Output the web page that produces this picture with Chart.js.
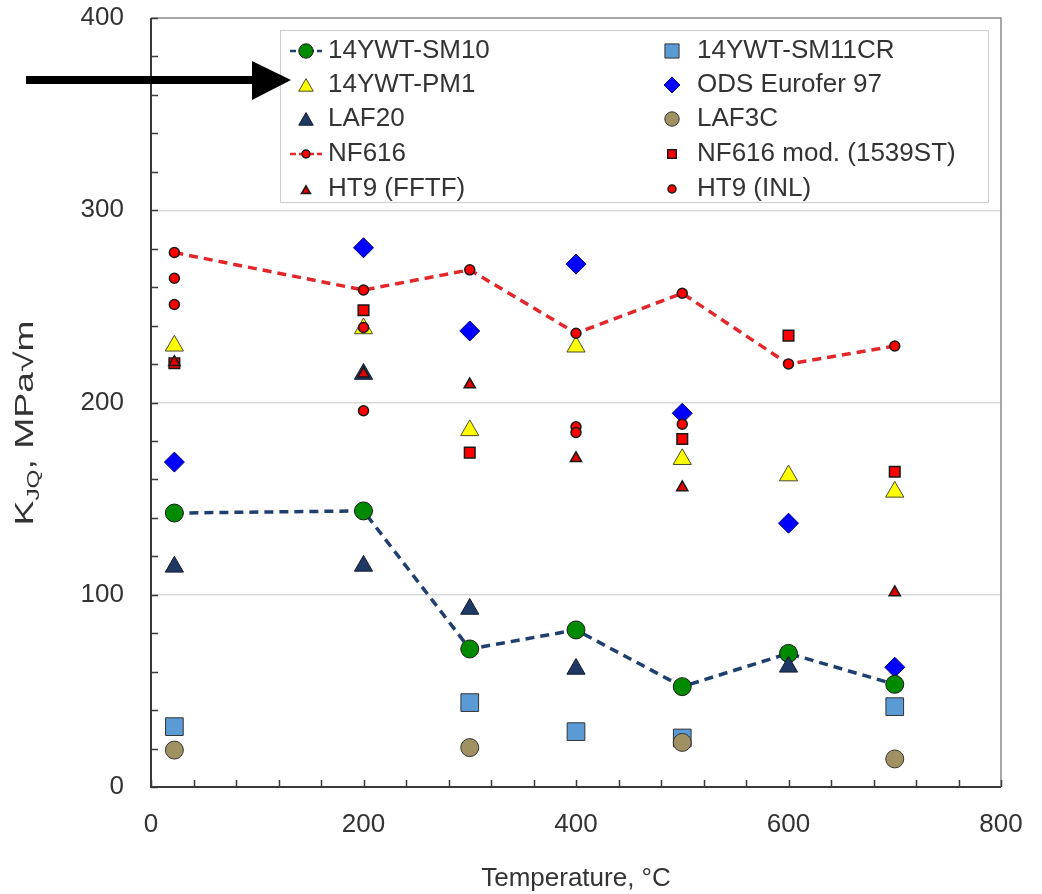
<!DOCTYPE html>
<html>
<head>
<meta charset="utf-8">
<script src="https://cdn.jsdelivr.net/npm/chart.js@4/dist/chart.umd.min.js"></script>
<style>
  html, body { margin: 0; padding: 0; background: #fff; }
  #wrap { width: 1042px; height: 894px; }
</style>
</head>
<body>
<div id="wrap"><canvas id="chart" width="1042" height="894"></canvas></div>
<script>
/* ─── Data ───────────────────────────────────────────────────────────────── */
const TEMPS        = [22, 200, 300, 400, 500, 600, 700];
const SM10         = [142.5, 143.6, 71.8, 81.7, 52.2, 69.5, 53.4];
const PM1          = [229.5, 238.5, 185.5, 229, 170.5, 162, 153.5];
const ODS_EUROFER  = [169, 280.5, 237.2, 272, 194.4, 137.2, 62.3];
const NF616        = [278, 258.5, 269, 236, 256.8, 220, 229.4];

const SM11CR_T     = [22, 300, 400, 500, 700];
const SM11CR       = [31.4, 43.9, 28.8, 25.5, 41.8];

const LAF20_T      = [22, 200, 200, 300, 400, 600];
const LAF20        = [114.5, 115, 214.8, 92.6, 61.4, 62.5];

const LAF3C_T      = [22, 300, 500, 700];
const LAF3C        = [19.2, 20.5, 23.2, 14.6];

const NF616MOD_T   = [22, 200, 300, 500, 600, 700];
const NF616MOD     = [220.4, 248, 173.9, 181, 234.8, 164];

const HT9F_T       = [22, 200, 300, 400, 500, 700];
const HT9F         = [221, 215, 209.3, 171, 155.8, 101.2];

const HT9I_T       = [22, 22, 200, 200, 400, 400, 500];
const HT9I         = [264.6, 251, 239, 195.7, 187.4, 184.4, 188.7];

const X_TICK_LABELS = [0, 200, 400, 600, 800];
const Y_TICK_LABELS = [0, 100, 200, 300, 400];

const LEGEND_LEFT  = ['14YWT-SM10', '14YWT-PM1', 'LAF20', 'NF616', 'HT9 (FFTF)'];
const LEGEND_RIGHT = ['14YWT-SM11CR', 'ODS Eurofer 97', 'LAF3C', 'NF616 mod. (1539ST)', 'HT9 (INL)'];

const pts = (xs, ys) => ys.map((y, i) => ({ x: xs[i], y }));

const FONT = '"Liberation Sans", Arial, sans-serif';
const TEXT = '#333';

/* ─── Datasets ───────────────────────────────────────────────────────────── */
const datasets = [
  {
    label: '14YWT-SM10', data: pts(TEMPS, SM10), showLine: true,
    borderColor: '#1f3f6e', borderWidth: 3.5, borderDash: [9, 6],
    pointStyle: 'circle', pointRadius: 9, pointBackgroundColor: '#008a00',
    pointBorderColor: '#1a1a1a', pointBorderWidth: 1, order: 7
  },
  {
    label: '14YWT-SM11CR', data: pts(SM11CR_T, SM11CR), showLine: false,
    pointStyle: 'rect', pointRadius: 12.5, pointBackgroundColor: '#5b9bd5',
    pointBorderColor: '#333', pointBorderWidth: 1, order: 10
  },
  {
    label: '14YWT-PM1', data: pts(TEMPS, PM1), showLine: false,
    pointStyle: 'triangle', pointRadius: 10.5, pointBackgroundColor: '#ffff00',
    pointBorderColor: '#4a4a30', pointBorderWidth: 1, order: 5
  },
  {
    label: 'ODS Eurofer 97', data: pts(TEMPS, ODS_EUROFER), showLine: false,
    pointStyle: 'rectRot', pointRadius: 10, pointBackgroundColor: '#0000ff',
    pointBorderColor: '#00007a', pointBorderWidth: 1, order: 8
  },
  {
    label: 'LAF20', data: pts(LAF20_T, LAF20), showLine: false,
    pointStyle: 'triangle', pointRadius: 10.5, pointBackgroundColor: '#1f3864',
    pointBorderColor: '#111a2e', pointBorderWidth: 1, order: 6
  },
  {
    label: 'LAF3C', data: pts(LAF3C_T, LAF3C), showLine: false,
    pointStyle: 'circle', pointRadius: 9, pointBackgroundColor: '#a09162',
    pointBorderColor: '#333', pointBorderWidth: 1, order: 9
  },
  {
    label: 'NF616', data: pts(TEMPS, NF616), showLine: true,
    borderColor: '#e3262a', borderWidth: 3.5, borderDash: [9, 6],
    pointStyle: 'circle', pointRadius: 5, pointBackgroundColor: '#ff0000',
    pointBorderColor: '#1a1a1a', pointBorderWidth: 1.5, order: 4
  },
  {
    label: 'NF616 mod. (1539ST)', data: pts(NF616MOD_T, NF616MOD), showLine: false,
    pointStyle: 'rect', pointRadius: 7.5, pointBackgroundColor: '#ff0000',
    pointBorderColor: '#1a1a1a', pointBorderWidth: 1.5, order: 3
  },
  {
    label: 'HT9 (FFTF)', data: pts(HT9F_T, HT9F), showLine: false,
    pointStyle: 'triangle', pointRadius: 6.5, pointBackgroundColor: '#e00000',
    pointBorderColor: '#1a1a1a', pointBorderWidth: 1.5, order: 2
  },
  {
    label: 'HT9 (INL)', data: pts(HT9I_T, HT9I), showLine: false,
    pointStyle: 'circle', pointRadius: 5, pointBackgroundColor: '#ff0000',
    pointBorderColor: '#1a1a1a', pointBorderWidth: 1.5, order: 1
  }
];

/* ─── Frame, inward ticks, y title, legend, arrow ────────────────────────── */
const framePlugin = {
  id: 'frame',
  afterDraw(chart) {
    const { ctx, chartArea: a, scales: { x, y } } = chart;
    ctx.save();

    // top / right border
    ctx.strokeStyle = '#8a8a8a';
    ctx.lineWidth = 1.5;
    ctx.beginPath();
    ctx.moveTo(a.left, a.top); ctx.lineTo(a.right, a.top); ctx.lineTo(a.right, a.bottom);
    ctx.stroke();

    // left / bottom axis lines
    ctx.strokeStyle = '#3a3a3a';
    ctx.lineWidth = 2;
    ctx.beginPath();
    ctx.moveTo(a.left, a.top); ctx.lineTo(a.left, a.bottom); ctx.lineTo(a.right, a.bottom);
    ctx.stroke();

    // inward tick marks
    ctx.lineWidth = 1.5;
    ctx.beginPath();
    y.ticks.forEach(t => {
      const py = Math.round(y.getPixelForValue(t.value)) + 0.5;
      ctx.moveTo(a.left, py); ctx.lineTo(a.left + 7, py);
    });
    x.ticks.forEach(t => {
      const px = Math.round(x.getPixelForValue(t.value)) + 0.5;
      ctx.moveTo(px, a.bottom); ctx.lineTo(px, a.bottom - 7);
    });
    ctx.stroke();

    // y title with subscript
    ctx.save();
    ctx.translate(24, 423);
    ctx.rotate(-Math.PI / 2);
    const parts = [
      { t: 'K', f: `26px ${FONT}`, dy: 0 },
      { t: 'JQ', f: `17px ${FONT}`, dy: 6 },
      { t: ', MPa\u221Am', f: `26px ${FONT}`, dy: 0 }
    ];
    let w = 0;
    parts.forEach(p => { ctx.font = p.f; p.w = ctx.measureText(p.t).width; w += p.w; });
    ctx.scale(205 / w, 1);
    ctx.fillStyle = TEXT;
    ctx.textBaseline = 'alphabetic';
    let cx = -w / 2;
    parts.forEach(p => { ctx.font = p.f; ctx.fillText(p.t, cx, 9 + p.dy); cx += p.w; });
    ctx.restore();

    // legend
    const box = { l: 280.5, t: 30.5, w: 708, h: 172 };
    ctx.fillStyle = '#fff';
    ctx.fillRect(box.l, box.t, box.w, box.h);
    ctx.strokeStyle = '#cdcdcd';
    ctx.lineWidth = 1;
    ctx.strokeRect(box.l, box.t, box.w, box.h);

    const rows = [51, 85, 119, 154, 189];
    const cols = [
      { labels: LEGEND_LEFT,  mx: 306, tx: 328 },
      { labels: LEGEND_RIGHT, mx: 672, tx: 697 }
    ];
    ctx.font = `26px ${FONT}`;
    ctx.textBaseline = 'middle';
    cols.forEach(col => {
      col.labels.forEach((lab, r) => {
        const ds = chart.data.datasets.find(d => d.label === lab);
        const ry = rows[r];
        if (ds.showLine) {
          ctx.save();
          ctx.strokeStyle = ds.borderColor;
          ctx.lineWidth = 2.5;
          ctx.setLineDash([6, 3]);
          ctx.beginPath(); ctx.moveTo(col.mx - 16, ry); ctx.lineTo(col.mx + 16, ry); ctx.stroke();
          ctx.restore();
        }
        ctx.save();
        ctx.fillStyle = ds.pointBackgroundColor;
        ctx.strokeStyle = ds.pointBorderColor;
        ctx.lineWidth = ds.pointBorderWidth;
        Chart.helpers.drawPoint(ctx, {
          pointStyle: ds.pointStyle, rotation: 0,
          radius: ds.pointRadius * 0.8, borderWidth: ds.pointBorderWidth
        }, col.mx, ry + (ds.pointStyle === 'triangle' ? 2 : 0));
        ctx.restore();
        ctx.fillStyle = TEXT;
        ctx.fillText(lab, col.tx, ry);
      });
    });

    // annotation arrow
    ctx.fillStyle = '#000';
    ctx.fillRect(26, 76, 228, 8);
    ctx.beginPath();
    ctx.moveTo(252, 61); ctx.lineTo(291, 80); ctx.lineTo(252, 100);
    ctx.closePath();
    ctx.fill();

    ctx.restore();
  }
};

/* ─── Chart ──────────────────────────────────────────────────────────────── */
new Chart(document.getElementById('chart'), {
  type: 'scatter',
  data: { datasets },
  options: {
    responsive: false,
    devicePixelRatio: 1,
    animation: false,
    layout: { padding: { top: 18, right: 41, left: 0, bottom: 0 } },
    plugins: { legend: { display: false }, tooltip: { enabled: false } },
    scales: {
      x: {
        type: 'linear', min: 0, max: 800,
        afterFit: s => { s.height = 107; s.paddingLeft = 0; s.paddingRight = 0; },
        border: { display: false },
        grid: { display: false, drawTicks: false },
        ticks: {
          stepSize: 40, autoSkip: false, maxRotation: 0, padding: 22,
          color: TEXT, font: { family: FONT, size: 26 },
          callback: v => X_TICK_LABELS.includes(v) ? String(v) : ''
        },
        title: {
          display: true, text: 'Temperature, \u00B0C', color: TEXT,
          font: { family: FONT, size: 26 }, padding: { top: 0, bottom: 0 }
        }
      },
      y: {
        type: 'linear', min: 0, max: 400,
        afterFit: s => { s.width = 151; s.paddingTop = 0; s.paddingBottom = 0; },
        border: { display: false },
        grid: {
          drawTicks: false, lineWidth: 1.5,
          color: c => (c.tick && [100, 200, 300].includes(c.tick.value)) ? '#dadada' : 'rgba(0,0,0,0)'
        },
        ticks: {
          stepSize: 20, autoSkip: false, padding: 27,
          color: TEXT, font: { family: FONT, size: 26 },
          callback: v => Y_TICK_LABELS.includes(v) ? String(v) : ''
        }
      }
    }
  },
  plugins: [framePlugin]
});
</script>
</body>
</html>
